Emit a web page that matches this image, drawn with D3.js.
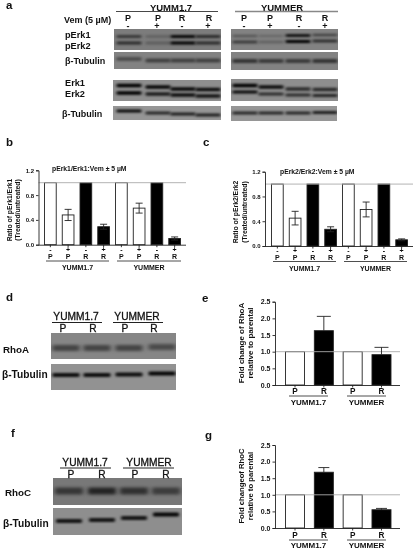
<!DOCTYPE html>
<html><head><meta charset="utf-8">
<script src="https://cdn.jsdelivr.net/npm/d3@7/dist/d3.min.js"></script>
<style>html,body{margin:0;padding:0;background:#fff}svg{display:block}text{font-family:"Liberation Sans",Arial,sans-serif;fill:#111}</style>
</head><body><svg id="c" width="416" height="550"></svg>
<script>
// ---- data ----
const groups=["YUMM1.7","YUMMER"];
const treat=["-","+","-","+","-","+","-","+"];
const parent8=["P","P","R","R","P","P","R","R"];
const parent4=["P","R","P","R"];
const ticks8=[0,0.4,0.8,1.2];
const ticks4=[0,0.5,1,1.5,2,2.5];
const bValues=[1,0.48,1,0.29,1,0.59,1,0.10];
const bErrors=[0,0.09,0,0.04,0,0.08,0,0.025];
const cValues=[1,0.45,1,0.27,1,0.59,1,0.10];
const cErrors=[0,0.11,0,0.04,0,0.12,0,0.015];
const eValues=[1,1.63,1,0.91];
const eErrors=[0,0.43,0,0.22];
const gValues=[1,1.68,1,0.55];
const gErrors=[0,0.14,0,0.04];
// band darkness per lane in the western blots
const pErk1L=[.55,.2,.95,.65], pErk2L=[.65,.25,1,.65];
const pErk1R=[.35,.2,1,.5], pErk2R=[.55,.25,1,.65];
const tubA1L=[.4,.5,.5,.5], tubA1R=[.6,.55,.55,.6];
const erk1L=[1,.95,.95,.9], erk2L=[1,.8,.9,.85];
const erk1R=[1,.9,.7,.7], erk2R=[.95,.7,.7,.75];
const tubA2L=[.95,.75,.8,.8], tubA2R=[.75,.75,.75,.8];
const rhoA=[.5,.5,.5,.45], tubD=[.9,.9,.9,.95];
const rhoC=[.55,.7,.6,.5], tubF=[.85,.85,.85,.95];

const svg=d3.select("#c");
const defs=svg.append("defs");
function blurDef(id,sd){
  defs.append("filter").attr("id",id).attr("x","-40%").attr("y","-200%").attr("width","180%").attr("height","500%")
    .attr("color-interpolation-filters","sRGB")
    .append("feGaussianBlur").attr("stdDeviation",sd);
}
blurDef("b1","1.4 0.9");blurDef("b2","2 1.8");
defs.append("filter").attr("id","soft").attr("x","0").attr("y","0").attr("width","416").attr("height","550")
  .attr("filterUnits","userSpaceOnUse").attr("color-interpolation-filters","sRGB")
  .append("feGaussianBlur").attr("stdDeviation","0.35");
const root=svg.append("g").attr("filter","url(#soft)");

function txt(s,x,y,size,opt={}){
  const t=root.append("text").attr("x",x).attr("y",y).attr("font-size",size)
    .attr("font-weight",opt.weight||"bold").attr("text-anchor",opt.anchor||"start")
    .attr("dominant-baseline","central").text(s);
  if(opt.rotate) t.attr("transform",`rotate(-90 ${x} ${y})`);
  return t;
}
function blot(x,y,w,h,bg,rows,lanes,bw,filter){
  const g=root.append("g");
  g.append("rect").attr("x",x).attr("y",y).attr("width",w).attr("height",h).attr("fill",bg);
  const clip="cp"+Math.round(x)+"_"+Math.round(y);
  defs.append("clipPath").attr("id",clip).append("rect").attr("x",x).attr("y",y).attr("width",w).attr("height",h);
  const inner=g.append("g").attr("clip-path",`url(#${clip})`);
  rows.forEach(r=>{
    const shade=d3.scaleLinear().domain([0,1]).range([d3.color(bg).formatHex(),"#000"]);
    inner.selectAll(null).data(r.vals).join("rect")
      .attr("x",(d,i)=>lanes[i]-bw/2).attr("width",bw)
      .attr("y",(d,i)=>r.ys?r.ys[i]-r.h/2:r.y-r.h/2).attr("height",r.h).attr("rx",1.2)
      .attr("fill",d=>shade(d)).attr("filter",filter||"url(#b1)");
  });
}
const lanesL=[129,158,183,208], lanesR=[245,271,298,325];

// panel a
blot(114,29,107,21,"#7c7c7c",[{vals:pErk1L,y:36.5,h:2.8},{vals:pErk2L,y:43,h:2.8}],lanesL,25);
blot(231,29,107,21,"#828282",[{vals:pErk1R,ys:[36,36,35.5,35],h:2.6},{vals:pErk2R,ys:[42,42,41.5,41],h:2.8}],lanesR,25);
blot(114,52,107,17,"#828282",[{vals:tubA1L,ys:[59,60.5,60.5,60.5],h:4}],lanesL,25);
blot(231,52,107,18,"#828282",[{vals:tubA1R,y:61,h:4.2}],lanesR,25);
blot(113,80,108,21,"#8e8e8e",[{vals:erk1L,ys:[85.5,87,89,89.5],h:3.6},{vals:erk2L,ys:[93,94,95,96],h:3.4}],lanesL,25);
blot(231,79,107,22,"#8e8e8e",[{vals:erk1R,ys:[85.5,87,89,89.5],h:3.4},{vals:erk2R,ys:[92,94,95,95.5],h:3.2}],lanesR,25);
blot(113,106,108,14,"#969696",[{vals:tubA2L,ys:[111,113,114,115],h:3.2}],lanesL,25);
blot(231,106,106,15,"#969696",[{vals:tubA2R,ys:[113,113,113,112.5],h:3.2}],lanesR,25);

txt(groups[0],171,7,9.5,{anchor:"middle"});
txt(groups[1],282,7,9.5,{anchor:"middle"});
root.append("line").attr("x1",116).attr("x2",218).attr("y1",11.5).attr("y2",11.5).attr("stroke","#333").attr("stroke-width",.9);
root.append("line").attr("x1",235).attr("x2",338).attr("y1",11.5).attr("y2",11.5).attr("stroke","#888").attr("stroke-width",1.3);
txt("Vem (5 µM)",64,20,9);
["P","P","R","R"].forEach((s,i)=>{txt(s,[128,158,182,209][i],17.5,9,{anchor:"middle"});txt(s,[244,270,299,325][i],17.5,9,{anchor:"middle"});});
["-","+","-","+"].forEach((s,i)=>{txt(s,[128,157,182,208][i],26,9,{anchor:"middle"});txt(s,[244,270,299,325][i],26,9,{anchor:"middle"});});
txt("pErk1",65,35,9.2);txt("pErk2",65,46,9.2);txt("β-Tubulin",65,61,9);
txt("Erk1",65,83,9.2);txt("Erk2",65,94,9.2);txt("β-Tubulin",62,114,9);

// panel letters
[["a",6,5],["b",6,142],["c",203,142],["d",6,297],["e",202,298],["f",11,433],["g",205,435]]
  .forEach(d=>txt(d[0],d[1],d[2],11.5));

// bar panels
function bars(o){
  const g=root.append("g");
  const y=d3.scaleLinear().domain(o.domain).range([o.y0,o.y1]);
  const x=d3.scaleBand().domain(d3.range(o.values.length)).range([o.xs,o.xe]).paddingInner(o.pad).paddingOuter(0);
  g.selectAll(".bar").data(o.values).join("rect").attr("class","bar")
    .attr("x",(d,i)=>x(i)).attr("width",x.bandwidth())
    .attr("y",d=>y(d)).attr("height",d=>o.y0-y(d))
    .attr("fill",(d,i)=>o.parent[i]==="R"?"#000":"#fff")
    .attr("stroke","#222").attr("stroke-width",.9);
  g.append("line").attr("x1",o.ax).attr("x2",o.xr).attr("y1",y(1)).attr("y2",y(1))
    .attr("stroke","#aaa").attr("stroke-width",.9);
  o.values.forEach((v,i)=>{
    const e=o.errors[i]; if(!e) return;
    const cx=x(i)+x.bandwidth()/2, top=y(v+e), bot=o.lower?y(v-e):y(v);
    const w=o.capW;
    g.append("path").attr("d",`M${cx-w},${top}H${cx+w}M${cx},${top}V${bot}`+(o.lower?`M${cx-w},${bot}H${cx+w}`:""))
      .attr("fill","none").attr("stroke","#222").attr("stroke-width",.9);
  });
  const ay=g.append("g").attr("transform",`translate(${o.ax},0)`)
    .call(d3.axisLeft(y).tickValues(o.ticks).tickFormat(d3.format(".1f")).tickSize(2.5).tickPadding(2));
  ay.selectAll("text").attr("font-size",o.tickFont).attr("font-weight","bold").attr("style",'font-family:"Liberation Sans"');
  const ax=g.append("g").attr("transform",`translate(0,${o.y0})`)
    .call(d3.axisBottom(x).tickSize(2.5).tickFormat(""));
  ax.select(".domain").attr("d",`M${o.ax},0.5H${o.xr}`);
  g.selectAll(".domain,.tick line").attr("stroke","#222").attr("stroke-width",.9);
  o.values.forEach((v,i)=>{
    const cx=x(i)+x.bandwidth()/2;
    if(o.signs) txt(o.signs[i],cx,o.signY,o.catFont,{anchor:"middle"});
    txt(o.parent[i],cx,o.catY,o.catFont,{anchor:"middle"});
  });
  o.groupX.forEach((gx,i)=>{
    root.append("line").attr("x1",gx[0]).attr("x2",gx[1]).attr("y1",o.lineY).attr("y2",o.lineY).attr("stroke","#222").attr("stroke-width",.8);
    txt(groups[i],(gx[0]+gx[1])/2,o.groupY,o.groupFont,{anchor:"middle"});
  });
  o.label.forEach((l,i)=>txt(l,o.labelX[i],o.labelY,o.labelFont,{anchor:"middle",rotate:true}));
  if(o.title) txt(o.title,o.titleX,o.titleY,o.titleFont);
}
bars({values:bValues,errors:bErrors,domain:[0,1.2],y0:244.7,y1:170.3,xs:44.5,xe:180.5,pad:.34,ax:38.5,xr:186,
  parent:parent8,signs:treat,ticks:ticks8,tickFont:6,lower:true,capW:3.5,signY:249.5,catY:256,catFont:7,
  groupX:[[46,109],[117,181]],lineY:261,groupY:267,groupFont:7,
  label:["Ratio of pErk1/Erk1","(Treated/untreated)"],labelX:[9,17.5],labelY:210,labelFont:6.8,
  title:"pErk1/Erk1:Vem ± 5 µM",titleX:52,titleY:168,titleFont:6.8});
bars({values:cValues,errors:cErrors,domain:[0,1.2],y0:246,y1:171.7,xs:271.5,xe:407.5,pad:.34,ax:265,xr:413,
  parent:parent8,signs:treat,ticks:ticks8,tickFont:6,lower:true,capW:3.5,signY:250.5,catY:257,catFont:7,
  groupX:[[273,336],[344,407]],lineY:261.5,groupY:268,groupFont:7,
  label:["Ratio of pErk2/Erk2","(Treated/untreated)"],labelX:[235,244],labelY:212,labelFont:6.8,
  title:"pErk2/Erk2:Vem ± 5 µM",titleX:280,titleY:171,titleFont:6.8});
bars({values:eValues,errors:eErrors,domain:[0,2.5],y0:385,y1:301.7,xs:285.5,xe:391,pad:.34,ax:275,xr:400,
  parent:parent4,ticks:ticks4,tickFont:7,lower:false,capW:7,catY:391,catFont:8.2,
  groupX:[[289,328],[347,386]],lineY:396,groupY:402,groupFont:8,
  label:["Fold change of RhoA","relative to parental"],labelX:[241,250.5],labelY:343,labelFont:8});
bars({values:gValues,errors:gErrors,domain:[0,2.5],y0:528,y1:445,xs:285.5,xe:391,pad:.34,ax:275,xr:400,
  parent:parent4,ticks:ticks4,tickFont:7,lower:false,capW:5.5,catY:535,catFont:8.2,
  groupX:[[289,328],[347,386]],lineY:540,groupY:545.5,groupFont:8,
  label:["Fold changeof RhoC","relative to parental"],labelX:[241,250.5],labelY:486,labelFont:7.7});

// panels d and f
const lanesD=[66,97,129,162], lanesF=[69,102,134,166];
blot(51,333,125,26,"#868686",[{vals:rhoA,ys:[348,348,348,347],h:6}],lanesD,27,"url(#b2)");
blot(51,364,125,26,"#929292",[{vals:tubD,ys:[375,375,374.5,373.5],h:4}],lanesD,27);
function head(s,x,y){txt(s,x,y,10.2,{anchor:"middle",weight:"normal"}).attr("stroke","#111").attr("stroke-width",.3);}
head(groups[0],76,316.5);head(groups[1],137,316.5);
[[52,102],[113,163]].forEach(d=>root.append("line").attr("x1",d[0]).attr("x2",d[1]).attr("y1",322.5).attr("y2",322.5).attr("stroke","#222"));
parent4.forEach((s,i)=>head(s,[63,93,125,154][i],328.5));
txt("RhoA",3,349,9.8);txt("β-Tubulin",2,374,10.2);

blot(53,478,129,27,"#787878",[{vals:rhoC,y:491,h:7}],lanesF,28,"url(#b2)");
blot(53,508,129,27,"#8e8e8e",[{vals:tubF,ys:[521,520,518,514.5],h:3.8}],lanesF,26);
head(groups[0],85,462.5);head(groups[1],149,462.5);
[[60,111],[123,174]].forEach(d=>root.append("line").attr("x1",d[0]).attr("x2",d[1]).attr("y1",468).attr("y2",468).attr("stroke","#222"));
parent4.forEach((s,i)=>head(s,[71,102,135,166][i],474));
txt("RhoC",5,492,9.8);txt("β-Tubulin",3,523,10.2);
</script></body></html>
